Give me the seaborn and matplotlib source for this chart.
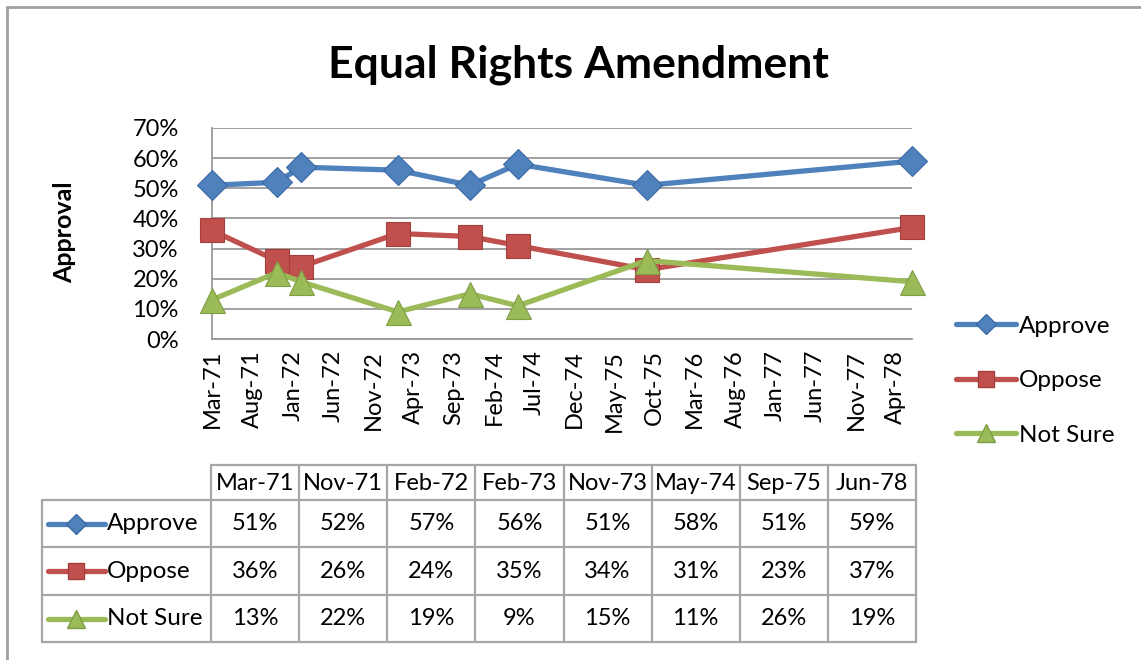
import matplotlib
matplotlib.use("Agg")
import matplotlib.pyplot as plt
import matplotlib.dates as mdates
from matplotlib.lines import Line2D
from matplotlib.ticker import PercentFormatter
import seaborn as sns
import pandas as pd

# survey dates and results
dates = ["1971-03", "1971-11", "1972-02", "1973-02", "1973-11", "1974-05", "1975-09", "1978-06"]
date_labels = ["Mar-71", "Nov-71", "Feb-72", "Feb-73", "Nov-73", "May-74", "Sep-75", "Jun-78"]
approve = [0.51, 0.52, 0.57, 0.56, 0.51, 0.58, 0.51, 0.59]
oppose = [0.36, 0.26, 0.24, 0.35, 0.34, 0.31, 0.23, 0.37]
not_sure = [0.13, 0.22, 0.19, 0.09, 0.15, 0.11, 0.26, 0.19]

series = ["Approve", "Oppose", "Not Sure"]
colors = {"Approve": "#4F81BD", "Oppose": "#C0504D", "Not Sure": "#9BBB59"}
edges = {"Approve": "#3A6AA5", "Oppose": "#A43E3B", "Not Sure": "#7E9E45"}
markers = {"Approve": "D", "Oppose": "s", "Not Sure": "^"}
msizes = {"Approve": 15, "Oppose": 17, "Not Sure": 18}

df = pd.DataFrame({"date": pd.to_datetime(dates), "Approve": approve,
                   "Oppose": oppose, "Not Sure": not_sure})
long = df.melt(id_vars="date", var_name="series", value_name="value")

sns.set_theme(style="white")
plt.rcParams["font.family"] = ["Lato", "DejaVu Sans"]
plt.rcParams["text.color"] = "black"

W, H = 1141, 660
fig = plt.figure(figsize=(W / 100, H / 100), dpi=100)

def fbox(x0, y0, x1, y1):
    return [x0 / W, 1 - y1 / H, (x1 - x0) / W, (y1 - y0) / H]

ax = fig.add_axes(fbox(212, 128, 912, 339))
for s in series:
    sns.lineplot(data=long[long["series"] == s], x="date", y="value", ax=ax,
                 color=colors[s], marker=markers[s], markersize=msizes[s],
                 markeredgecolor=edges[s], markeredgewidth=0.8,
                 linewidth=3.8, label=s, legend=False, zorder=3, clip_on=False)

ax.set_ylim(0, 0.7)
ax.set_yticks([i / 10 for i in range(8)])
ax.yaxis.set_major_formatter(PercentFormatter(1.0, decimals=0))
ax.set_xlim(pd.Timestamp("1971-03-01"), pd.Timestamp("1978-06-01"))
ticks = pd.date_range("1971-03-01", "1978-06-01", freq="5MS")
ax.set_xticks(ticks)
ax.xaxis.set_major_formatter(mdates.DateFormatter("%b-%y"))
plt.setp(ax.get_xticklabels(), rotation=90, ha="center", va="top")
ax.tick_params(axis="both", length=0, labelsize=17, colors="black")
ax.tick_params(axis="y", pad=24)
ax.tick_params(axis="x", pad=8)
ax.grid(axis="y", color="#9A9A9A", linewidth=1.3)
for side in ["top", "right"]:
    ax.spines[side].set_visible(False)
for side in ["left", "bottom"]:
    ax.spines[side].set_color("#9A9A9A")
    ax.spines[side].set_linewidth(1.3)
ax.set_xlabel("")
ax.set_ylabel("")

fig.text(65 / W, 1 - 232 / H, "Approval", rotation=90, ha="center", va="center",
         fontsize=18, fontweight="bold")
fig.text(578 / W, 1 - 65 / H, "Equal Rights Amendment", ha="center", va="center",
         fontsize=32, fontweight="bold")

handles = [Line2D([], [], color=colors[s], marker=markers[s], markersize=msizes[s] * 0.7,
                  markeredgecolor=edges[s], linewidth=3.8) for s in series]
fig.legend(handles, series, loc="upper left", bbox_to_anchor=(946 / W, 1 - 306 / H),
           frameon=False, fontsize=17.5, handlelength=2.5, handletextpad=0.1,
           labelspacing=1.38, borderaxespad=0)

# data table under the chart
tx0, tx1, ty0, ty1 = 42, 916, 465, 642
tab = fig.add_axes(fbox(tx0, ty0, tx1, ty1))
tab.set_xlim(tx0, tx1)
tab.set_ylim(ty1, ty0)
tab.axis("off")
label_w = 211
col_edges = [label_w + i * (tx1 - label_w) / 8 for i in range(9)]
row_edges = [465, 500, 547, 595, 642]
gc, glw = "#A6A6A6", 1.6
# header row borders
tab.plot([label_w, tx1], [row_edges[0], row_edges[0]], color=gc, lw=glw, clip_on=False)
for r in row_edges[1:]:
    tab.plot([tx0, tx1], [r, r], color=gc, lw=glw, clip_on=False)
for c in col_edges:
    tab.plot([c, c], [row_edges[0], row_edges[-1]], color=gc, lw=glw, clip_on=False)
tab.plot([tx0, tx0], [row_edges[1], row_edges[-1]], color=gc, lw=glw, clip_on=False)

for i, lab in enumerate(date_labels):
    cx = (col_edges[i] + col_edges[i + 1]) / 2
    tab.text(cx, (row_edges[0] + row_edges[1]) / 2 + 1, lab, ha="center", va="center",
             fontsize=17)
for r, s in enumerate(series):
    cy = (row_edges[r + 1] + row_edges[r + 2]) / 2
    tab.plot([48, 105], [cy, cy], color=colors[s], lw=3.8, clip_on=False)
    tab.plot([76], [cy], color=colors[s], marker=markers[s], markersize=msizes[s] * 0.7,
             markeredgecolor=edges[s], clip_on=False)
    tab.text(107, cy, s, ha="left", va="center", fontsize=17.5)
    for i, v in enumerate(df[s]):
        cx = (col_edges[i] + col_edges[i + 1]) / 2
        tab.text(cx, cy, f"{v:.0%}", ha="center", va="center", fontsize=17)

# outer frame (left and top edges)
fig.add_artist(Line2D([7 / W, 7 / W], [0, 1 - 7 / H], color="#A0A0A0", lw=2))
fig.add_artist(Line2D([7 / W, 1], [1 - 7 / H, 1 - 7 / H], color="#A0A0A0", lw=2))

fig.savefig("out.png", dpi=100)
